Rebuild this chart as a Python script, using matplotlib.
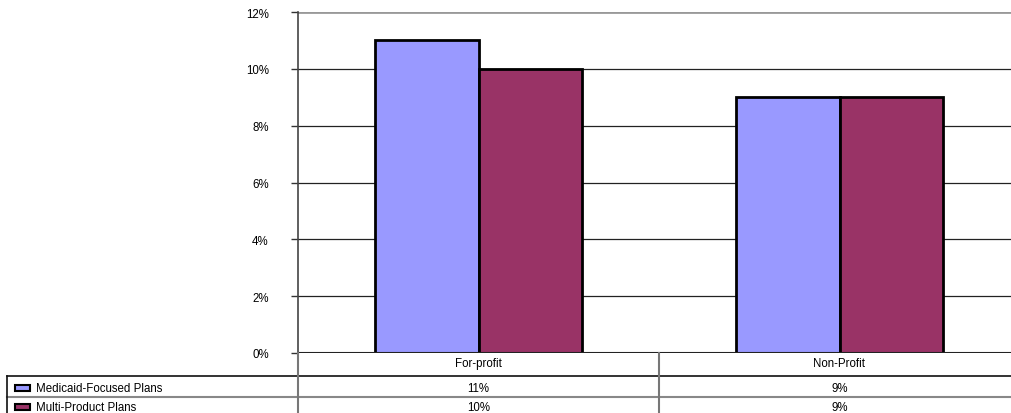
import matplotlib.pyplot as plt
from matplotlib.lines import Line2D
from matplotlib.patches import Rectangle
import numpy as np

categories = ['For-profit', 'Non-Profit']
series_names = ['Medicaid-Focused Plans', 'Multi-Product Plans']
medicaid_focused = [11, 9]
multi_product = [10, 9]
yticks = [0, 2, 4, 6, 8, 10, 12]

colors = ['#9999FF', '#993366']

plt.rcParams['font.family'] = ['Liberation Sans', 'DejaVu Sans']
FS = 8.3
W, H = 1011, 414
fig = plt.figure(figsize=(W / 100, H / 100), dpi=100)

# axes box in pixel terms (right edge runs a little past the figure)
x0, x1 = 298, 1020
y_top, y_bot = 13, 354
ax = fig.add_axes([x0 / W, 1 - y_bot / H, (x1 - x0) / W, (y_bot - y_top) / H])

x = np.arange(len(categories))
bw = 0.287
for i, vals in enumerate([medicaid_focused, multi_product]):
    ax.bar(x + (i - 0.5) * bw, vals, width=bw, align='center',
           color=colors[i], edgecolor='black', linewidth=2, zorder=3)

ax.set_xlim(-0.5, len(categories) - 0.5)
ax.set_ylim(0, 12)
ax.set_yticks(yticks)
ax.set_yticklabels([f'{t}%' for t in yticks], fontsize=FS)
ax.set_xticks([])
ax.tick_params(axis='y', direction='out', length=5, width=1, color='#333333', pad=16)
for t in yticks[1:-1]:
    ax.axhline(t, color='#222222', linewidth=0.9, zorder=1)
ax.axhline(12, color='#999999', linewidth=2, zorder=1)
for s in ['top', 'right', 'bottom']:
    ax.spines[s].set_visible(False)
ax.spines['left'].set_color('#444444')
ax.spines['left'].set_linewidth(1.2)
ax.axhline(0, color='#222222', linewidth=1.5, zorder=4)


def fx(px):
    return px / W


def fy(py):
    return 1 - py / H


def hline(y, xa, xb, color='#111111', lw=1.2):
    fig.add_artist(Line2D([fx(xa), fx(xb)], [fy(y), fy(y)], color=color, linewidth=lw))


def vline(xp, ya, yb, color='#777777', lw=1.5):
    fig.add_artist(Line2D([fx(xp), fx(xp)], [fy(ya), fy(yb)], color=color, linewidth=lw))


# data table under the plot
row_lines = [376.5, 398]
hline(row_lines[0], 7, W, color='#111111', lw=1.2)
hline(row_lines[1], 7, W, color='#888888', lw=1.5)
vline(7, row_lines[0], H, color='#111111', lw=1.2)
vline(x0, y_bot, H, color='#777777', lw=1.5)
col_w = (x1 - x0) / len(categories)
vline(x0 + col_w, y_bot, H, color='#777777', lw=1.5)

cat_y = 364
row_y = [389, 408]
for j, cat in enumerate(categories):
    cx = x0 + col_w * (j + 0.5)
    fig.text(fx(cx), fy(cat_y), cat, ha='center', va='center', fontsize=FS)
    for i, vals in enumerate([medicaid_focused, multi_product]):
        fig.text(fx(cx), fy(row_y[i]), f'{vals[j]}%', ha='center', va='center', fontsize=FS)

for i, name in enumerate(series_names):
    fig.add_artist(Rectangle((fx(15), fy(row_y[i] + 3)), fx(15), 6 / H,
                             facecolor=colors[i], edgecolor='black', linewidth=1.5))
    fig.text(fx(36), fy(row_y[i]), name, ha='left', va='center', fontsize=FS)

fig.savefig('out.png', dpi=100)
